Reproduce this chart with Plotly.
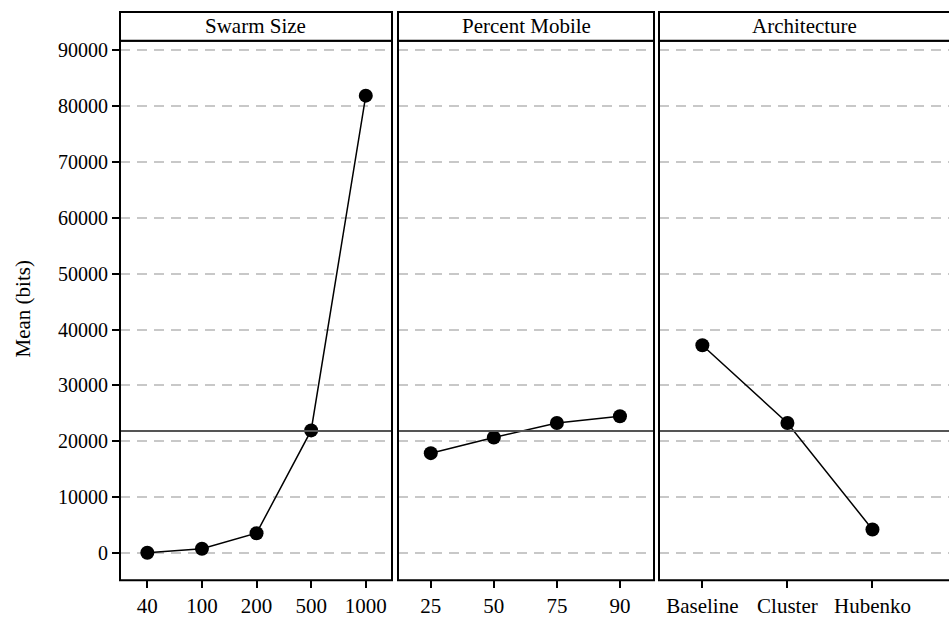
import plotly.graph_objects as go

# ---- data ----
swarm_labels = ["40", "100", "200", "500", "1000"]
swarm_means = [100, 830, 3600, 21970, 81800]
mobile_labels = ["25", "50", "75", "90"]
mobile_means = [17900, 20700, 23300, 24500]
arch_labels = ["Baseline", "Cluster", "Hubenko"]
arch_means = [37200, 23300, 4260]
panel_titles = ["Swarm Size", "Percent Mobile", "Architecture"]
grand_mean = 21880
y_ticks = [0, 10000, 20000, 30000, 40000, 50000, 60000, 70000, 80000, 90000]

W, H = 949, 618
FONT = "Liberation Serif, Times New Roman, serif"

def px_x(p):
    return p / W

def px_y(p):
    return (H - p) / H

panels = [
    (swarm_labels, swarm_means, (120, 392), [-0.5, 4.48]),
    (mobile_labels, mobile_means, (398, 654), [-0.52, 3.54]),
    (arch_labels, arch_means, (659, 949), [-0.51, 2.90]),
]
plot_top, plot_bot, head_top = 39, 581, 10
y_dom = [px_y(plot_bot), px_y(plot_top)]
y_range = [-4800, 91600]

fig = go.Figure()
shapes = []
annotations = []
for i, (labels, means, (xl, xr), xr_range) in enumerate(panels):
    n = "" if i == 0 else str(i + 1)
    fig.add_trace(go.Scatter(
        x=labels, y=means, mode="lines+markers",
        xaxis="x" + n, yaxis="y" + n,
        line=dict(color="black", width=1.5),
        marker=dict(color="black", size=14),
        showlegend=False, cliponaxis=False,
    ))
    fig.layout["xaxis" + n] = dict(
        domain=[px_x(xl), min(1.0, px_x(xr))], type="category",
        range=xr_range, anchor="y" + n, showgrid=False, zeroline=False,
        showline=False, ticks="outside", ticklen=7, tickwidth=2, tickcolor="black",
        tickfont=dict(family=FONT, size=21, color="black"),
    )
    fig.layout["yaxis" + n] = dict(
        domain=y_dom, range=y_range, anchor="x" + n,
        tickvals=y_ticks, tickformat="d",
        showgrid=True, gridcolor="#c8c8c8", gridwidth=2, griddash="10px,7px",
        zeroline=False, showline=False,
        showticklabels=(i == 0),
        ticks="outside" if i == 0 else "", ticklen=7, tickwidth=2, tickcolor="black",
        tickfont=dict(family=FONT, size=20, color="black"),
    )
    right = px_x(xr) if xr < W else 1.02
    # grand mean line
    shapes.append(dict(type="line", xref="paper", yref="y" + n,
                       x0=px_x(xl), x1=right, y0=grand_mean, y1=grand_mean,
                       line=dict(color="#555555", width=2), layer="above"))
    # panel border
    shapes.append(dict(type="rect", xref="paper", yref="paper",
                       x0=px_x(xl), x1=right, y0=px_y(plot_bot), y1=px_y(plot_top),
                       line=dict(color="black", width=2), layer="above"))
    # header strip
    shapes.append(dict(type="rect", xref="paper", yref="paper",
                       x0=px_x(xl), x1=right, y0=px_y(plot_top), y1=px_y(head_top),
                       line=dict(color="black", width=2), fillcolor="white", layer="above"))
    annotations.append(dict(text=panel_titles[i], xref="paper", yref="paper",
                            x=px_x((xl + xr) / 2) if xr < W else px_x(804),
                            y=px_y((plot_top + head_top) / 2),
                            showarrow=False, xanchor="center", yanchor="middle",
                            font=dict(family=FONT, size=21, color="black")))

annotations.append(dict(text="Mean (bits)", xref="paper", yref="paper",
                        x=px_x(22), y=px_y(309), textangle=-90, showarrow=False,
                        xanchor="center", yanchor="middle",
                        font=dict(family=FONT, size=21, color="black")))

fig.update_layout(
    width=W, height=H, margin=dict(l=0, r=0, t=0, b=0),
    paper_bgcolor="white", plot_bgcolor="white",
    shapes=shapes, annotations=annotations,
)
fig.write_html("out.html")
